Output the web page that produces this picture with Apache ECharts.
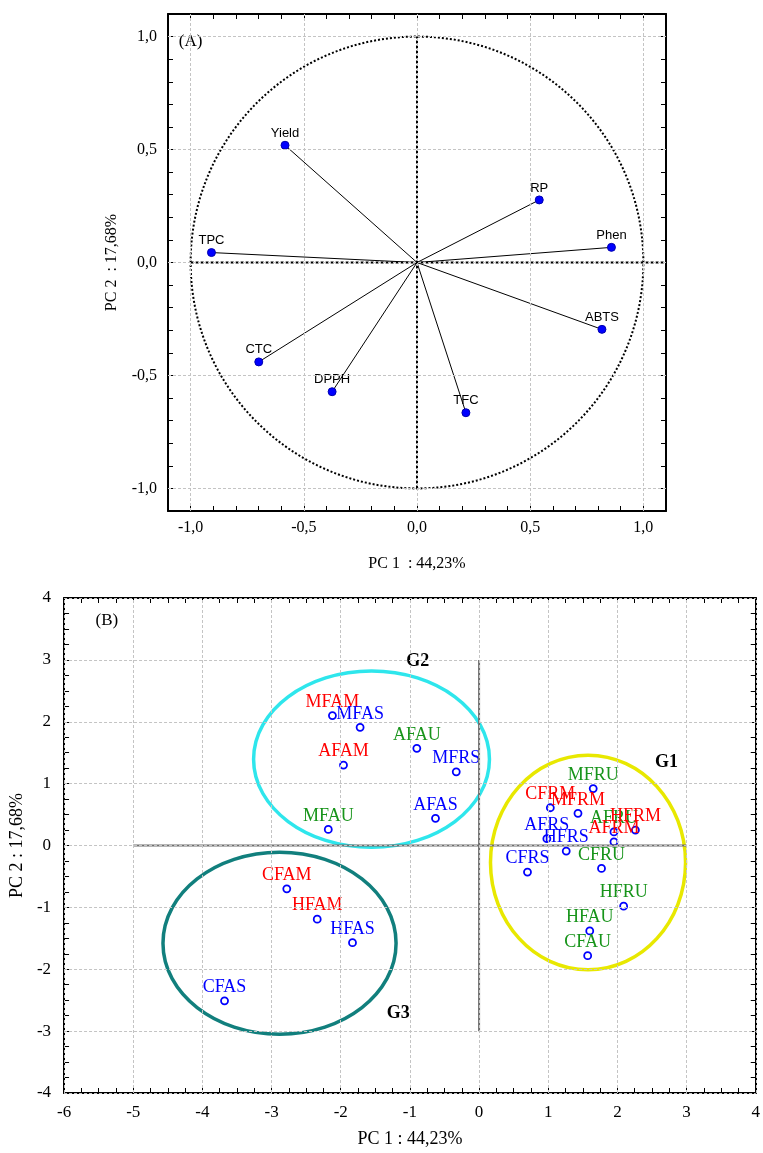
<!DOCTYPE html>
<html><head><meta charset="utf-8">
<script src="https://cdn.jsdelivr.net/npm/echarts@6/dist/echarts.min.js"></script>
<style>html,body{margin:0;padding:0;background:#fff}#c{width:763px;height:1153px}</style>
</head><body><div id="c"></div>
<script>
// ---------- Panel A: variable loadings ----------
const loadingNames = ['Yield', 'TPC', 'RP', 'Phen', 'ABTS', 'CTC', 'DPPH', 'TFC'];
const loadingPC1 = [-0.583, -0.908, 0.540, 0.859, 0.817, -0.699, -0.375, 0.216];
const loadingPC2 = [0.519, 0.044, 0.277, 0.067, -0.296, -0.440, -0.572, -0.665];
const ticksA = [-1.0, -0.5, 0.0, 0.5, 1.0];
const unitCircle = [[0, 0, 1, 1]];               // cx, cy, rx, ry
const zeroLinesA = [[[-1, 0], [1.1, 0]], [[0, -1], [0, 1]]];

// ---------- Panel B: sample scores ----------
const sampleNames = ['MFAM', 'MFAS', 'AFAU', 'AFAM', 'MFRS', 'AFAS', 'MFAU', 'CFAM', 'HFAM', 'HFAS', 'CFAS',
  'MFRU', 'CFRM', 'MFRM', 'AFRU', 'HFRM', 'AFRM', 'AFRS', 'HFRS', 'CFRU', 'CFRS', 'HFRU', 'HFAU', 'CFAU'];
const scorePC1 = [-2.12, -1.72, -0.90, -1.96, -0.33, -0.63, -2.18, -2.78, -2.34, -1.83, -3.68,
  1.65, 1.03, 1.43, 1.95, 2.26, 1.95, 0.98, 1.26, 1.77, 0.70, 2.09, 1.60, 1.57];
const scorePC2 = [2.10, 1.91, 1.57, 1.30, 1.19, 0.44, 0.26, -0.70, -1.19, -1.57, -2.51,
  0.92, 0.61, 0.52, 0.22, 0.25, 0.06, 0.11, -0.09, -0.37, -0.43, -0.98, -1.38, -1.78];
const groupNames = ['G1', 'G2', 'G3'];
const groupCX = [1.575, -1.555, -2.885];
const groupCY = [-0.275, 1.395, -1.58];
const groupRX = [1.41, 1.705, 1.685];
const groupRY = [1.735, 1.425, 1.47];
const groupLabelX = [2.71, -0.885, -1.17];
const groupLabelY = [1.35, 2.97, -2.72];
const ticksBX = [-6, -5, -4, -3, -2, -1, 0, 1, 2, 3, 4];
const ticksBY = [-4, -3, -2, -1, 0, 1, 2, 3, 4];
const zeroLinesB = [[[-5, 0], [3, 0]], [[0, -3], [0, 3]]];
const panelTags = ['(A)', '(B)'];
const panelTagPos = [[-1.0, 0.978], [-5.38, 3.64]];

// ---------- styles ----------
const SERIF = 'Liberation Serif';
const SANS = 'Liberation Sans';
const treatmentColor = { M: '#ff0000', S: '#0000ff', U: '#17941a' };
const groupColor = { G1: '#e8e800', G2: '#2ee6ec', G3: '#117f7d' };
const gridLineStyle = { color: '#c4c4c4', type: [3, 2], width: 1 };

const isMult = (v, step) => Math.abs(v / step - Math.round(v / step)) < 1e-6;

function axis(gridIndex, pos, min, max, interval, major, fmt, show, opts) {
  return Object.assign({
    type: 'value', gridIndex, position: pos, min, max, interval,
    axisLine: { show: true, onZero: false, lineStyle: { color: '#000', width: 2 } },
    axisTick: { show: true, inside: true, length: 5, lineStyle: { color: '#000', width: 1 } },
    splitLine: { show: false },
    axisLabel: show ? {
      show: true, color: '#000', fontFamily: SERIF,
      formatter: v => isMult(v, major) ? fmt(v) : ''
    } : { show: false }
  }, opts || {});
}
const fmtA = v => (Math.abs(v) < 1e-9 ? 0 : v).toFixed(1).replace('.', ',');
const fmtB = v => String(Math.round(v));

function ellipseItem(stroke, width, dash) {
  return function (params, api) {
    const c = api.coord([api.value(0), api.value(1)]);
    const s = api.size([api.value(2), api.value(3)]);
    return {
      type: 'ellipse',
      shape: { cx: c[0], cy: c[1], rx: s[0], ry: s[1] },
      style: { fill: null, stroke: typeof stroke === 'function' ? stroke(params) : stroke, lineWidth: width, lineDash: dash || null }
    };
  };
}

const option = {
  animation: false,
  backgroundColor: '#fff',
  grid: [
    { left: 168, top: 14, width: 498, height: 497 },
    { left: 63.5, top: 598, width: 696, height: 495 }
  ],
  xAxis: [
    axis(0, 'bottom', -1.1, 1.1, 0.1, 0.5, fmtA, true, {
      name: 'PC 1  : 44,23%', nameLocation: 'middle', nameGap: 45,
      nameTextStyle: { fontFamily: SERIF, fontSize: 16, color: '#000' },
      axisLabel: { show: true, color: '#000', fontFamily: SERIF, fontSize: 16, margin: 9,
        formatter: v => isMult(v, 0.5) ? fmtA(v) : '' }
    }),
    axis(0, 'top', -1.1, 1.1, 0.1, 0.5, fmtA, false),
    axis(1, 'bottom', -6, 4, 0.25, 1, fmtB, true, {
      name: 'PC 1 : 44,23%', nameLocation: 'middle', nameGap: 37,
      nameTextStyle: { fontFamily: SERIF, fontSize: 18, color: '#000' },
      axisLabel: { show: true, color: '#000', fontFamily: SERIF, fontSize: 17, margin: 11,
        formatter: v => isMult(v, 1) ? fmtB(v) : '' }
    }),
    axis(1, 'top', -6, 4, 0.25, 1, fmtB, false)
  ],
  yAxis: [
    axis(0, 'left', -1.1, 1.1, 0.1, 0.5, fmtA, true, {
      name: 'PC 2  : 17,68%', nameLocation: 'middle', nameGap: 48,
      nameTextStyle: { fontFamily: SERIF, fontSize: 16, color: '#000' },
      axisLabel: { show: true, color: '#000', fontFamily: SERIF, fontSize: 16, margin: 11,
        formatter: v => isMult(v, 0.5) ? fmtA(v) : '' }
    }),
    axis(0, 'right', -1.1, 1.1, 0.1, 0.5, fmtA, false),
    axis(1, 'left', -4, 4, 0.25, 1, fmtB, true, {
      name: 'PC 2 : 17,68%', nameLocation: 'middle', nameGap: 32,
      nameTextStyle: { fontFamily: SERIF, fontSize: 18, color: '#000' },
      axisLabel: { show: true, color: '#000', fontFamily: SERIF, fontSize: 17, margin: 13,
        formatter: v => isMult(v, 1) ? fmtB(v) : '' }
    }),
    axis(1, 'right', -4, 4, 0.25, 1, fmtB, false)
  ],
  series: []
};

// ----- Panel A series -----
option.series.push({
  type: 'line', xAxisIndex: 0, yAxisIndex: 0, data: [], silent: true,
  markLine: {
    silent: true, symbol: 'none', label: { show: false }, lineStyle: gridLineStyle,
    data: ticksA.map(v => ({ xAxis: v })).concat(ticksA.map(v => ({ yAxis: v })))
  }
});
zeroLinesA.forEach(seg => option.series.push({
  type: 'line', xAxisIndex: 0, yAxisIndex: 0, data: seg, symbol: 'none', silent: true,
  lineStyle: { color: '#000', width: 2, type: [3, 2] }
}));
option.series.push({
  type: 'custom', xAxisIndex: 0, yAxisIndex: 0, data: unitCircle, silent: true,
  renderItem: ellipseItem('#000', 2, [2, 2])
});
option.series.push({
  type: 'custom', xAxisIndex: 0, yAxisIndex: 0, silent: true,
  data: loadingNames.map((n, i) => [loadingPC1[i], loadingPC2[i]]),
  renderItem: function (params, api) {
    const o = api.coord([0, 0]);
    const p = api.coord([api.value(0), api.value(1)]);
    return { type: 'line', shape: { x1: o[0], y1: o[1], x2: p[0], y2: p[1] }, style: { stroke: '#000', lineWidth: 1 } };
  }
});
option.series.push({
  type: 'scatter', xAxisIndex: 0, yAxisIndex: 0, symbol: 'circle', symbolSize: 8,
  itemStyle: { color: '#0000ff', borderColor: '#0000b0', borderWidth: 1, opacity: 1 },
  data: loadingNames.map((n, i) => ({ value: [loadingPC1[i], loadingPC2[i]], name: n })),
  label: { show: true, position: 'top', distance: 1, formatter: '{b}', fontFamily: SANS, fontSize: 13, color: '#000', opacity: 1 }
});

// ----- Panel B series -----
option.series.push({
  type: 'line', xAxisIndex: 2, yAxisIndex: 2, data: [], silent: true,
  markLine: {
    silent: true, symbol: 'none', label: { show: false }, lineStyle: gridLineStyle,
    data: ticksBX.map(v => ({ xAxis: v })).concat(ticksBY.map(v => ({ yAxis: v })))
  }
});
zeroLinesB.forEach(seg => option.series.push({
  type: 'line', xAxisIndex: 2, yAxisIndex: 2, data: seg, symbol: 'none', silent: true,
  lineStyle: { color: '#6e6e6e', width: 2 }
}));
option.series.push({
  type: 'custom', xAxisIndex: 2, yAxisIndex: 2, silent: true,
  data: groupNames.map((g, i) => [groupCX[i], groupCY[i], groupRX[i], groupRY[i], g]),
  renderItem: ellipseItem(p => groupColor[groupNames[p.dataIndex]], 3.5)
});
option.series.push({
  type: 'scatter', xAxisIndex: 2, yAxisIndex: 2, symbol: 'circle', symbolSize: 7,
  itemStyle: { color: '#ffffff', borderColor: '#0000ff', borderWidth: 1.8, opacity: 1 },
  data: sampleNames.map((n, i) => ({
    value: [scorePC1[i], scorePC2[i]], name: n,
    label: { color: treatmentColor[n.slice(-1)] }
  })),
  label: { show: true, position: 'top', distance: 0, formatter: '{b}', fontFamily: SERIF, fontSize: 18, opacity: 1 },
  labelLayout: { hideOverlap: false }
});
option.series.push({
  type: 'scatter', xAxisIndex: 2, yAxisIndex: 2, symbolSize: 0, silent: true,
  itemStyle: { opacity: 1 },
  data: groupNames.map((g, i) => ({ value: [groupLabelX[i], groupLabelY[i]], name: g })),
  label: { show: true, position: 'inside', formatter: '{b}', fontFamily: SERIF, fontSize: 18, fontWeight: 'bold', color: '#000', opacity: 1 }
});

// panel tags
[[0, 0], [2, 2]].forEach((ax, k) => option.series.push({
  type: 'scatter', xAxisIndex: ax[0], yAxisIndex: ax[1], symbolSize: 0, silent: true,
  itemStyle: { opacity: 1 },
  data: [{ value: panelTagPos[k], name: panelTags[k] }],
  label: { show: true, position: 'inside', formatter: '{b}', fontFamily: SERIF, fontSize: 17, color: '#000', opacity: 1 }
}));

const chart = echarts.init(document.getElementById('c'), null, { renderer: 'canvas' });
chart.setOption(option);
</script></body></html>
